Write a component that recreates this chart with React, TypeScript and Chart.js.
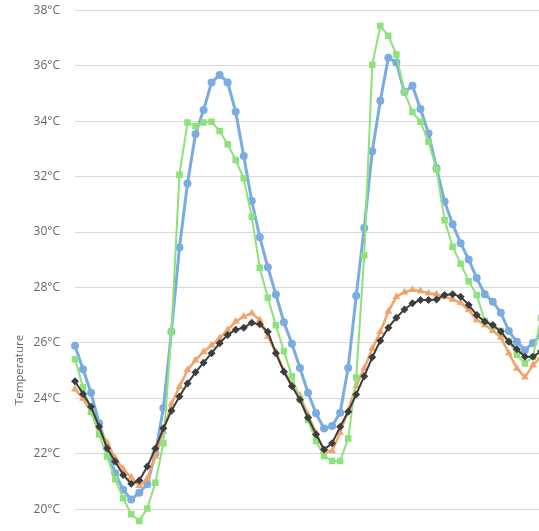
import React, { useEffect, useRef } from "react";
import { Chart, registerables } from "chart.js";

Chart.register(...registerables);

const hours: string[] = [
  "21:00", "22:00", "23:00",
  "00:00", "01:00", "02:00", "03:00", "04:00", "05:00", "06:00", "07:00", "08:00", "09:00", "10:00", "11:00",
  "12:00", "13:00", "14:00", "15:00", "16:00", "17:00", "18:00", "19:00", "20:00", "21:00", "22:00", "23:00",
  "00:00", "01:00", "02:00", "03:00", "04:00", "05:00", "06:00", "07:00", "08:00", "09:00", "10:00", "11:00",
  "12:00", "13:00", "14:00", "15:00", "16:00", "17:00", "18:00", "19:00", "20:00", "21:00", "22:00", "23:00",
  "00:00", "01:00", "02:00", "03:00", "04:00", "05:00", "06:00", "07:00",
];

const seriesBlue: number[] = [
  25.9, 25.05, 24.2, 23.1, 22.2, 21.3, 20.7, 20.35, 20.6, 20.9,
  22.0, 23.65, 26.4, 29.44, 31.75, 33.54, 34.4, 35.4, 35.67, 35.4,
  34.34, 32.74, 31.12, 29.81, 28.73, 27.75, 26.75, 25.97, 25.1, 24.2,
  23.46, 22.91, 23.0, 23.48, 25.1, 27.7, 30.15, 32.92, 34.74, 36.29,
  36.12, 35.05, 35.28, 34.44, 33.56, 32.3, 31.1, 30.28, 29.6, 29.01,
  28.34, 27.76, 27.49, 27.09, 26.43, 26.04, 25.74, 26.0, 26.3,
];

const seriesGreen: number[] = [
  25.41, 24.4, 23.52, 22.7, 21.9, 21.08, 20.4, 19.82, 19.58, 20.03,
  20.96, 22.38, 26.4, 32.07, 33.95, 33.83, 33.95, 33.98, 33.65, 33.17,
  32.6, 31.94, 30.55, 28.71, 27.63, 26.64, 25.7, 24.8, 23.97, 23.22,
  22.46, 21.92, 21.74, 21.74, 22.55, 24.75, 29.16, 36.04, 37.43, 37.08,
  36.41, 35.04, 34.33, 33.98, 33.26, 32.26, 30.43, 29.47, 28.86, 28.23,
  27.73, 26.79, 26.59, 26.43, 26.07, 25.57, 25.26, 25.5, 26.9,
];

const seriesOrange: number[] = [
  24.33, 24.0, 23.5, 22.92, 22.4, 21.85, 21.45, 21.15, 20.85, 21.1,
  21.9, 22.8, 23.8, 24.42, 25.02, 25.38, 25.68, 25.92, 26.17, 26.47,
  26.77, 26.95, 27.07, 26.83, 26.23, 25.68, 25.0, 24.5, 24.1, 23.4,
  22.76, 22.1, 22.1, 22.76, 23.58, 24.45, 25.09, 25.8, 26.4, 27.13,
  27.67, 27.83, 27.92, 27.87, 27.79, 27.76, 27.67, 27.57, 27.45, 27.19,
  26.83, 26.65, 26.44, 26.2, 25.63, 25.08, 24.76, 25.2, 25.5,
];

const seriesDark: number[] = [
  24.62, 24.16, 23.7, 22.98, 22.2, 21.72, 21.24, 20.92, 21.04, 21.54,
  22.19, 22.92, 23.55, 24.07, 24.54, 24.94, 25.29, 25.63, 25.99, 26.29,
  26.48, 26.55, 26.73, 26.67, 26.4, 25.63, 24.96, 24.44, 23.95, 23.3,
  22.7, 22.16, 22.38, 22.98, 23.52, 24.14, 24.8, 25.48, 26.08, 26.55,
  26.91, 27.21, 27.43, 27.55, 27.55, 27.57, 27.73, 27.76, 27.67, 27.37,
  27.01, 26.77, 26.65, 26.41, 26.04, 25.77, 25.5, 25.5, 25.7,
];

const yTickValues: number[] = [20, 22, 24, 26, 28, 30, 32, 34, 36, 38];

const FONT = "'Open Sans', 'DejaVu Sans', sans-serif";

export default function App() {
  const ref = useRef<HTMLCanvasElement | null>(null);

  useEffect(() => {
    if (!ref.current) return;
    const chart = new Chart(ref.current, {
      type: "line",
      data: {
        labels: hours,
        datasets: [
          {
            label: "Series D",
            data: seriesDark,
            borderColor: "#3d3d3d",
            backgroundColor: "#3d3d3d",
            borderWidth: 2,
            pointStyle: "rectRot",
            pointRadius: 4,
            pointBorderWidth: 0,
            tension: 0,
          },
          {
            label: "Series B",
            data: seriesGreen,
            borderColor: "#8de27a",
            backgroundColor: "#8de27a",
            borderWidth: 2,
            pointStyle: "rect",
            pointRadius: 4.6,
            pointBorderWidth: 0,
            tension: 0,
          },
          {
            label: "Series C",
            data: seriesOrange,
            borderColor: "#f0a46a",
            backgroundColor: "#f0a46a",
            borderWidth: 2.5,
            pointStyle: "triangle",
            pointRadius: 4.5,
            pointBorderWidth: 0,
            tension: 0,
          },
          {
            label: "Series A",
            data: seriesBlue,
            borderColor: "#7aace2",
            backgroundColor: "#7aace2",
            borderWidth: 3,
            pointStyle: "circle",
            pointRadius: 4,
            pointBorderWidth: 0,
            tension: 0,
          },
        ],
      },
      options: {
        responsive: false,
        animation: false,
        layout: { padding: 0, autoPadding: false },
        plugins: {
          legend: { display: false },
          tooltip: { enabled: false },
        },
        scales: {
          x: { display: false },
          y: {
            min: 11.676,
            max: 38.372,
            afterBuildTicks: (s: any) => {
              s.ticks = yTickValues.map((v) => ({ value: v }));
            },
            afterFit: (s: any) => {
              s.width = 75;
              s.paddingTop = 0;
              s.paddingBottom = 0;
            },
            border: { display: false },
            grid: { color: "#d9d9d9", lineWidth: 1, drawTicks: false },
            ticks: {
              color: "#666666",
              padding: 15,
              font: { family: FONT, size: 12 },
              callback: (v: any) => `${v}°C`,
            },
            title: {
              display: true,
              text: "Temperature",
              color: "#666666",
              font: { family: FONT, size: 11.5 },
              padding: { top: 13, bottom: 0 },
            },
          },
        },
      },
    });
    return () => chart.destroy();
  }, []);

  return (
    <div
      style={{
        position: "fixed",
        left: 0,
        top: 0,
        width: 539,
        height: 531,
        overflow: "hidden",
        background: "#ffffff",
      }}
    >
      <canvas ref={ref} width={541} height={740} style={{ display: "block" }} />
    </div>
  );
}
